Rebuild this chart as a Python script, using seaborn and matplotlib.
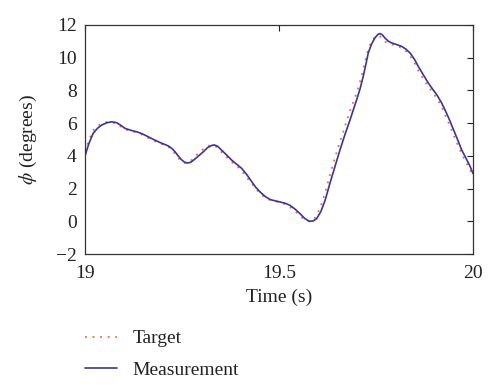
import matplotlib
matplotlib.use("Agg")
import matplotlib.pyplot as plt
import seaborn as sns
import pandas as pd

time_s = [19.000, 19.010, 19.021, 19.032, 19.043, 19.056, 19.069, 19.082, 19.093, 19.103,
          19.118, 19.133, 19.146, 19.159, 19.174, 19.189, 19.202, 19.215, 19.224, 19.232,
          19.240, 19.248, 19.256, 19.264, 19.272, 19.280, 19.292, 19.305, 19.316, 19.327,
          19.334, 19.342, 19.352, 19.365, 19.378, 19.391, 19.404, 19.417, 19.430, 19.440,
          19.451, 19.464, 19.477, 19.490, 19.503, 19.516, 19.528, 19.541, 19.554, 19.566,
          19.578, 19.588, 19.597, 19.608, 19.619, 19.631, 19.643, 19.657, 19.670, 19.683,
          19.700, 19.709, 19.717, 19.724, 19.730, 19.738, 19.747, 19.755, 19.760, 19.766,
          19.773, 19.781, 19.790, 19.803, 19.816, 19.827, 19.838, 19.849, 19.859, 19.872,
          19.885, 19.896, 19.907, 19.918, 19.928, 19.939, 19.950, 19.961, 19.971, 19.982,
          19.993, 20.000]

measurement = [4.00, 4.75, 5.37, 5.68, 5.88, 6.02, 6.08, 6.02, 5.85, 5.68,
               5.56, 5.47, 5.36, 5.21, 5.03, 4.86, 4.73, 4.60, 4.45, 4.25,
               4.00, 3.78, 3.62, 3.56, 3.60, 3.74, 3.98, 4.25, 4.50, 4.64,
               4.66, 4.58, 4.35, 4.05, 3.74, 3.48, 3.23, 2.85, 2.41, 2.08,
               1.80, 1.52, 1.33, 1.25, 1.18, 1.10, 0.98, 0.75, 0.47, 0.18,
               0.00, 0.02, 0.16, 0.60, 1.29, 2.30, 3.25, 4.35, 5.30, 6.19,
               7.42, 8.10, 8.85, 9.60, 10.28, 10.80, 11.20, 11.42, 11.47, 11.40,
               11.20, 11.02, 10.90, 10.80, 10.69, 10.52, 10.28, 9.90, 9.46, 8.95,
               8.44, 8.07, 7.72, 7.28, 6.80, 6.22, 5.58, 4.95, 4.35, 3.85,
               3.33, 2.92]

target = [4.25, 4.95, 5.55, 5.82, 5.98, 6.06, 6.05, 5.95, 5.78, 5.62,
          5.52, 5.42, 5.30, 5.14, 4.96, 4.80, 4.68, 4.55, 4.35, 4.12,
          3.88, 3.68, 3.57, 3.56, 3.66, 3.88, 4.15, 4.42, 4.60, 4.65,
          4.62, 4.48, 4.22, 3.92, 3.62, 3.38, 3.08, 2.68, 2.30, 2.00,
          1.70, 1.45, 1.30, 1.22, 1.15, 1.05, 0.88, 0.62, 0.32, 0.08,
          0.00, 0.08, 0.35, 0.95, 1.75, 2.80, 3.80, 4.85, 5.80, 6.75,
          7.85, 8.55, 9.30, 9.95, 10.55, 10.95, 11.25, 11.35, 11.30, 11.15,
          10.98, 10.88, 10.82, 10.72, 10.60, 10.40, 10.10, 9.68, 9.20, 8.70,
          8.22, 7.88, 7.50, 7.05, 6.50, 5.90, 5.28, 4.65, 4.10, 3.60,
          3.12, 2.80]

x_ticks = [19, 19.5, 20]
x_tick_labels = ["19", "19.5", "20"]
y_ticks = [-2, 0, 2, 4, 6, 8, 10, 12]
y_tick_labels = ["\u22122", "0", "2", "4", "6", "8", "10", "12"]

df = pd.DataFrame({"t": time_s, "target": target, "measurement": measurement})

sns.set_style("white")
plt.rcParams["font.family"] = ["Liberation Serif", "DejaVu Serif"]
plt.rcParams["mathtext.fontset"] = "stix"

fig = plt.figure(figsize=(5.0, 3.89), dpi=100)
ax = fig.add_axes([0.170, 0.347, 0.776, 0.589])

sns.lineplot(data=df, x="t", y="target", ax=ax, color="#EE6A3A",
             linestyle=(0, (1, 3.2)), linewidth=1.3, label="Target")
sns.lineplot(data=df, x="t", y="measurement", ax=ax, color="#3A3598",
             linewidth=1.2, label="Measurement")

ax.set_xlim(19, 20)
ax.set_ylim(-2, 12)
ax.set_xticks(x_ticks)
ax.set_xticklabels(x_tick_labels)
ax.set_yticks(y_ticks)
ax.set_yticklabels(y_tick_labels)
ax.tick_params(direction="in", top=True, right=True, length=4, width=0.8,
               labelsize=14, colors="#222222", pad=6)
ax.tick_params(axis="x", pad=8)
for s in ax.spines.values():
    s.set_color("#333333")
    s.set_linewidth(0.9)

ax.set_xlabel("Time (s)", fontsize=14, color="#222222", labelpad=5)
ax.set_ylabel(r"$\phi$ (degrees)", fontsize=14, color="#222222", labelpad=12)

handles, labels = ax.get_legend_handles_labels()
ax.get_legend().remove()
fig.legend(handles, labels, loc="upper left", bbox_to_anchor=(0.170, 0.152),
           frameon=False, fontsize=14, handlelength=1.65, handletextpad=0.8,
           labelspacing=0.7, borderpad=0, borderaxespad=0, labelcolor="#222222")

fig.savefig("out.png", dpi=100)
